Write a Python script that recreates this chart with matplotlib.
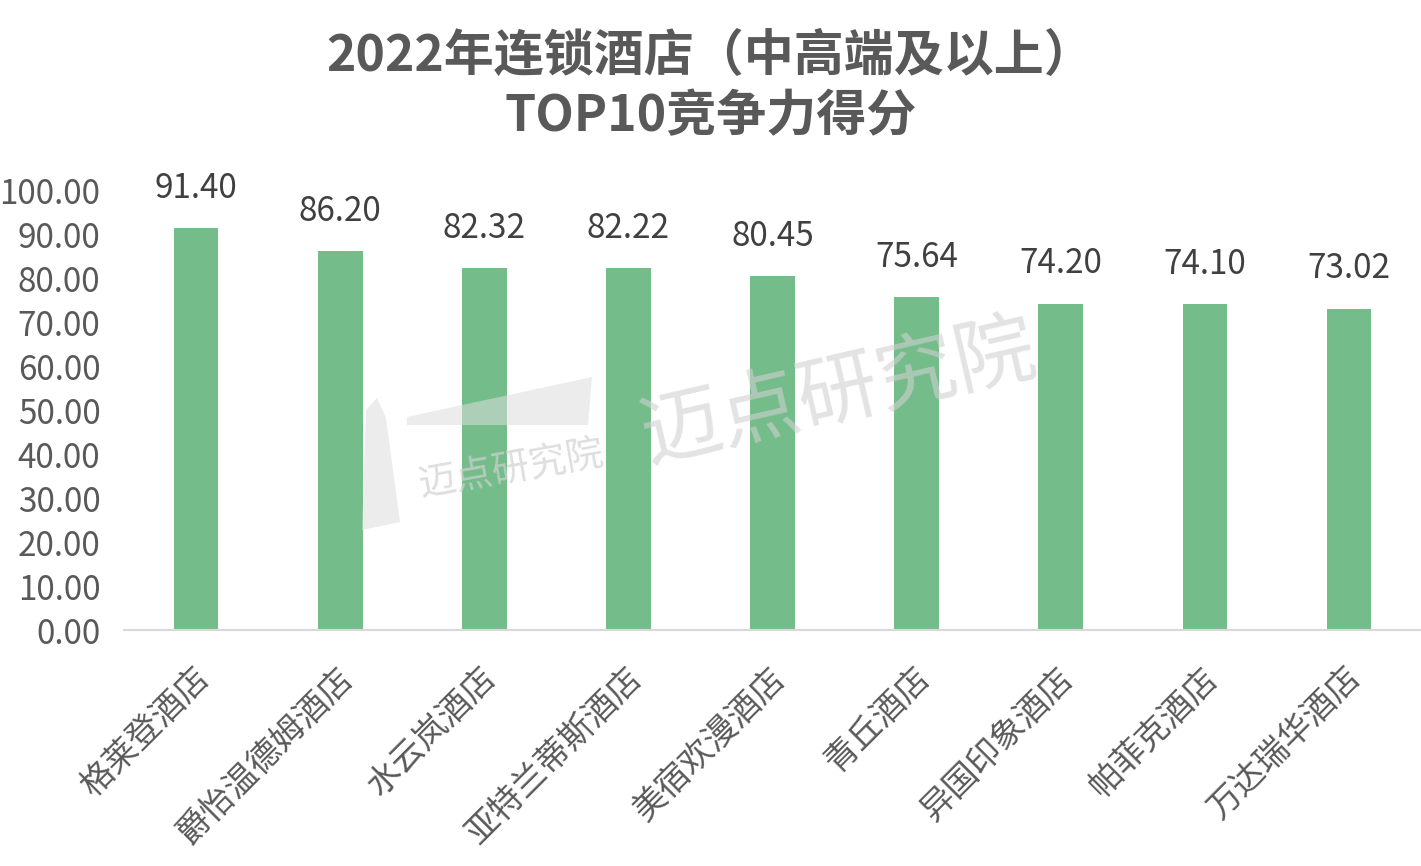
import numpy as np
import matplotlib
matplotlib.use("Agg")
import matplotlib.pyplot as plt
from matplotlib.ticker import FormatStrFormatter
from matplotlib.transforms import ScaledTranslation
from matplotlib.patches import Polygon

plt.rcParams['font.family'] = ['Noto Sans CJK SC', 'DejaVu Sans']

# datos
hoteles = ["格莱登酒店", "爵怡温德姆酒店", "水云岚酒店", "亚特兰蒂斯酒店", "美宿欢漫酒店",
           "青丘酒店", "异国印象酒店", "帕菲克酒店", "万达瑞华酒店"]
puntos = [91.40, 86.20, 82.32, 82.22, 80.45, 75.64, 74.20, 74.10, 73.02]
titulo = "2022年连锁酒店（中高端及以上）\nTOP10竞争力得分"

verde = "#74bd8b"
gris = "#595959"

fig = plt.figure(figsize=(14.21, 8.66), dpi=100)
ax = fig.add_axes([0.0873, 0.2725, 0.9127, 0.5081])

x = np.arange(len(hoteles))
ax.bar(x, puntos, width=0.31, color=verde, zorder=2)

# etiquetas de valor
for xi, v in zip(x, puntos):
    ax.annotate(f"{v:.2f}", (xi, v), xytext=(0, 16), textcoords="offset points",
                ha="center", va="bottom", fontsize=24, color="#404040")

ax.set_xlim(-0.5, len(hoteles) - 0.5)
ax.set_ylim(0, 100)
ax.set_yticks(np.arange(0, 101, 10))
ax.yaxis.set_major_formatter(FormatStrFormatter("%.2f"))
ax.tick_params(axis="y", length=0, pad=17, labelsize=24, labelcolor=gris)
ax.set_xticks(x)
ax.set_xticklabels(hoteles, rotation=45, ha="right", va="top", fontsize=24, color=gris)
ax.tick_params(axis="x", length=0, pad=22)
# mover las etiquetas un poco a la derecha
desplaza = ScaledTranslation(0.2, 0, fig.dpi_scale_trans)
for lab in ax.get_xticklabels():
    lab.set_transform(lab.get_transform() + desplaza)

for s in ["top", "right", "left"]:
    ax.spines[s].set_visible(False)
ax.spines["bottom"].set_color("#d9d9d9")
ax.spines["bottom"].set_linewidth(1.5)

# titulo
fig.text(0.5, 0.9, titulo, ha="center", va="center", fontsize=36,
         fontweight="bold", color=gris, linespacing=1.22)

# marca de agua (en pixeles de la figura)
W, H = 1421, 866
def px(puntos_px):
    return [(a / W, 1 - b / H) for a, b in puntos_px]

bandera = px([(407, 417), (592, 377), (588, 425), (407, 425)])
torre = px([(366, 410), (377, 398), (386, 418), (400, 522), (362, 530)])
for forma in (bandera, torre):
    fig.patches.append(Polygon(forma, closed=True, transform=fig.transFigure,
                               facecolor="#dddddd", edgecolor="none", alpha=0.55, zorder=5))

fig.text(0.59, 0.545, "迈点研究院", ha="center", va="center", fontsize=58,
         color="#d0d0d0", alpha=0.6, rotation=13, zorder=5)
fig.text(0.36, 0.457, "迈点研究院", ha="center", va="center", fontsize=27,
         color="#d0d0d0", alpha=0.7, rotation=10, zorder=5)

fig.savefig("out.png", dpi=100)
